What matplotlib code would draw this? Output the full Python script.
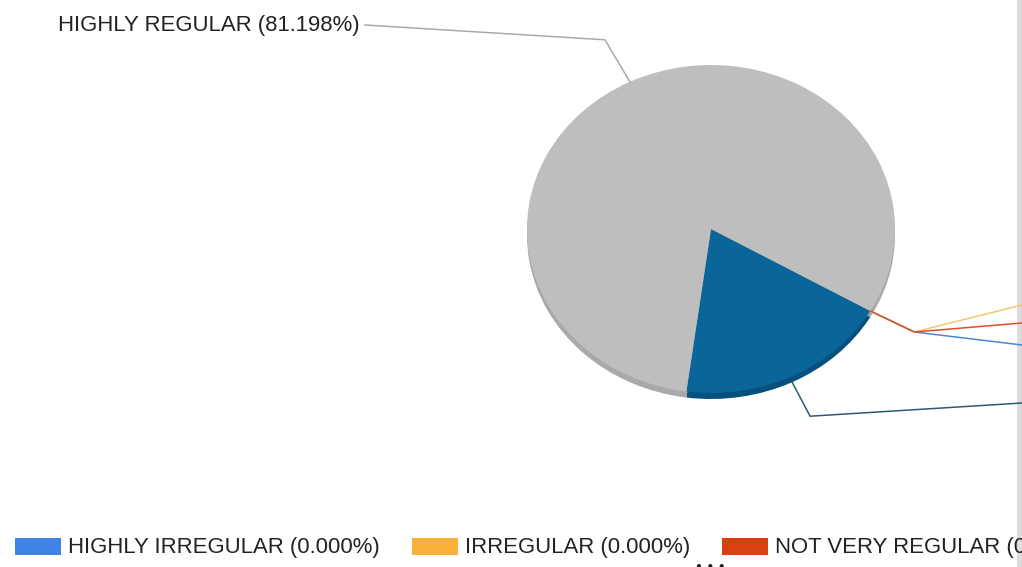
import numpy as np
import matplotlib
matplotlib.use('Agg')
import matplotlib.pyplot as plt
from matplotlib import font_manager
from matplotlib.patches import Rectangle

# data
labels = ['HIGHLY IRREGULAR', 'IRREGULAR', 'NOT VERY REGULAR', 'REGULAR', 'HIGHLY REGULAR']
values = [0.0, 0.0, 0.0, 18.802, 81.198]
colors = ['#3f84e5', '#f9b13b', '#d8400f', '#0a6699', '#bebebe']
side_colors = ['#2f66b3', '#c98a26', '#a8300b', '#05507c', '#a9a9a9']
line_colors = ['#4a86d8', '#f6c46e', '#d8512a', '#2f5872', '#aaaaaa']

names = {f.name for f in font_manager.fontManager.ttflist}
if 'Liberation Sans Narrow' in names:
    FONT, FS = 'Liberation Sans Narrow', 19
else:
    FONT, FS = 'Liberation Sans', 15.9
plt.rcParams['font.family'] = [FONT, 'DejaVu Sans']

W, H = 1022, 567
fig = plt.figure(figsize=(W / 100, H / 100), dpi=100)

# pie geometry (pixels)
cx, cy, rx, ry, depth = 711, 229, 184, 164, 6
start = -30.0
d = depth / ry
top_pix = cy - ry
bot_pix = cy + ry + depth + 2
ax_pie = fig.add_axes([(cx - rx) / W, (H - bot_pix) / H, 2 * rx / W, (bot_pix - top_pix) / H])
ax_pie.pie(values, colors=side_colors, startangle=start, counterclock=False,
           center=(0, -d), radius=1, wedgeprops=dict(linewidth=0))
ax_pie.pie(values, colors=colors, startangle=start, counterclock=False,
           center=(0, 0), radius=1, wedgeprops=dict(linewidth=0))
ax_pie.set_aspect('auto')
ax_pie.set_xlim(-1, 1)
ax_pie.set_ylim(-(bot_pix - cy) / ry, 1)
ax_pie.axis('off')

# overlay in pixel coords
ov = fig.add_axes([0, 0, 1, 1])
ov.set_xlim(0, W)
ov.set_ylim(H, 0)
ov.axis('off')
ov.patch.set_alpha(0)

total = sum(values)
cum = np.cumsum([0] + values[:-1])
mids = [np.deg2rad(start - 360 * (c + v / 2) / total) for c, v in zip(cum, values)]


def edge(a):
    y = cy - ry * np.sin(a)
    if np.sin(a) < -0.7:
        y += depth
    return cx + rx * np.cos(a), y


# leader lines: (bend offset, end point); right-side labels sit past the visible edge
leaders = {
    0: ((44, 21), (W, 345)),
    1: ((44, 21), (W, 305)),
    2: ((44, 21), (W, 323)),
    3: ((18, 34), (W, 403)),
    4: ((-25, -42), (365, 25)),
}
for i in [0, 1, 2, 3, 4]:
    ex, ey = edge(mids[i])
    (bx, by), (tx, ty) = leaders[i]
    ov.plot([ex, ex + bx, tx], [ey, ey + by, ty], color=line_colors[i], lw=1.1,
            solid_joinstyle='miter', clip_on=False)

ov.text(360, 25, '%s (%.3f%%)' % (labels[4], values[4]), ha='right', va='center',
        fontsize=FS, color='#222222')
for i in [0, 1, 2, 3]:
    ov.text(W + 6, leaders[i][1][1], '%s (%.3f%%)' % (labels[i], values[i]),
            ha='left', va='center', fontsize=FS, color='#222222', clip_on=True)

# legend along the bottom
fig.canvas.draw()
r = fig.canvas.get_renderer()
x = 15
for i in range(len(labels)):
    ov.add_patch(Rectangle((x, 538), 46, 17, color=colors[i], lw=0))
    t = ov.text(x + 53, 547, '%s (%.3f%%)' % (labels[i], values[i]), ha='left',
                va='center', fontsize=FS, color='#222222', clip_on=True)
    x = t.get_window_extent(r).x1 + 32

# right border of the widget
ov.add_patch(Rectangle((1017, 0), 5, H, color='#dcdcdc', lw=0))
ov.text(710, 566, '\u25cf  \u25cf  \u25cf', ha='center', va='center', fontsize=7, color='#222222')

fig.savefig('out.png', dpi=100)
